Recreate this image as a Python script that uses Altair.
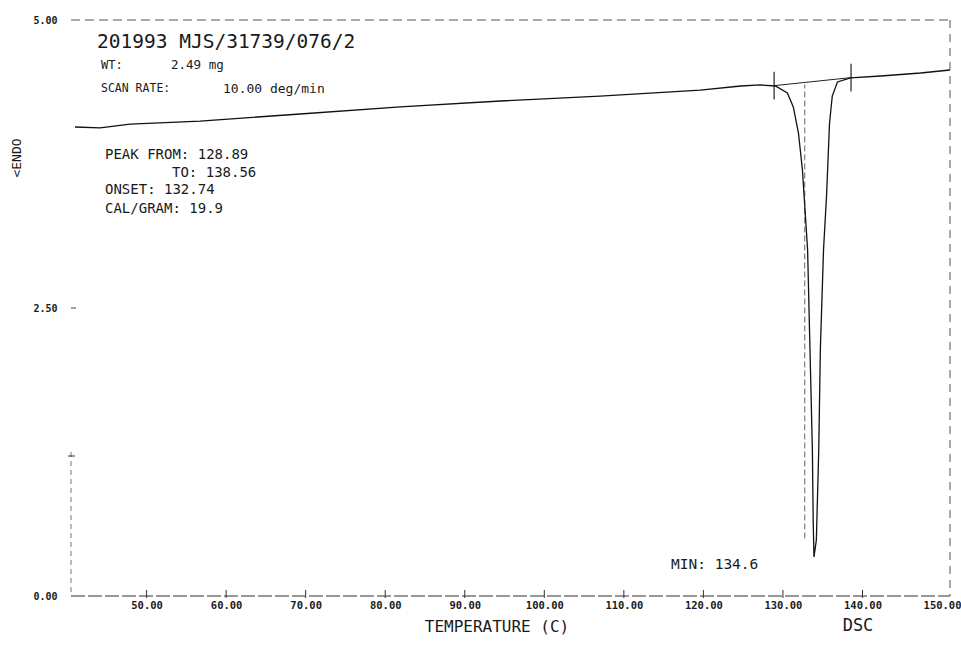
import altair as alt
import pandas as pd

# ---- data ----
temp = [41.0, 44.15, 47.92, 56.73, 69.3, 81.9, 94.5, 107.0, 119.6, 124.7, 127.2, 129.05,
        130.56, 131.3, 131.95, 132.45, 133.1, 133.4, 133.7, 133.8, 133.9,
        134.2, 134.5, 134.7, 135.1, 135.5, 135.85, 136.2, 136.85, 138.5, 142.3, 147.3, 151.0]
heat = [4.071, 4.063, 4.097, 4.123, 4.184, 4.245, 4.297, 4.340, 4.392, 4.427, 4.436, 4.427,
        4.366, 4.245, 4.019, 3.698, 3.003, 2.135, 1.267, 0.66, 0.339,
        0.486, 1.267, 2.135, 3.003, 3.500, 4.100, 4.340, 4.462, 4.497, 4.514, 4.540, 4.566]

peak_limits = [128.89, 138.56]
peak_base = [4.43, 4.50]
onset = [132.74]
onset_span = [0.5, 4.44]

x_ticks = [50, 60, 70, 80, 90, 100, 110, 120, 130, 140, 150]
y_ticks = [0.0, 2.5, 5.0]
x_domain = [40.5, 151.0]
y_domain = [0.0, 5.0]

W, H = 879, 576
FONT = "DejaVu Sans Mono"
INK = "#1a1a1a"

df = pd.DataFrame({"T": temp, "v": heat, "i": list(range(len(temp)))})
xs = alt.Scale(domain=x_domain, nice=False, zero=False)
ys = alt.Scale(domain=y_domain, nice=False, zero=True)

xaxis = alt.Axis(values=x_ticks, format=".2f", domain=False, ticks=False, grid=False,
                 labelFont=FONT, labelFontSize=10.5, labelFontWeight="bold",
                 labelColor=INK, labelPadding=4,
                 labelOverlap=False, labelFlush=False, title=None)
yaxis = alt.Axis(values=y_ticks, format=".2f", domain=False, ticks=False, grid=False,
                 labelFont=FONT, labelFontSize=10, labelFontWeight="bold",
                 labelColor=INK, labelPadding=14, title=None)

curve = alt.Chart(df).mark_line(color="#111", strokeWidth=1.3).encode(
    x=alt.X("T:Q", scale=xs, axis=xaxis),
    y=alt.Y("v:Q", scale=ys, axis=yaxis),
    order="i:Q",
)

base_df = pd.DataFrame({"T": peak_limits, "v": peak_base})
baseline = alt.Chart(base_df).mark_line(color="#222", strokeWidth=1).encode(
    x=alt.X("T:Q", scale=xs), y=alt.Y("v:Q", scale=ys))

mark_df = pd.DataFrame({"T": peak_limits, "lo": [b - 0.12 for b in peak_base],
                        "hi": [b + 0.12 for b in peak_base]})
limit_marks = alt.Chart(mark_df).mark_rule(color="#222", strokeWidth=1.2).encode(
    x=alt.X("T:Q", scale=xs), y=alt.Y("lo:Q", scale=ys), y2="hi:Q")

onset_df = pd.DataFrame({"T": onset, "lo": [onset_span[0]], "hi": [onset_span[1]]})
onset_line = alt.Chart(onset_df).mark_rule(color="#555", strokeWidth=0.9, strokeDash=[6, 3]).encode(
    x=alt.X("T:Q", scale=xs), y=alt.Y("lo:Q", scale=ys), y2="hi:Q")

tick_df = pd.DataFrame({"T": x_ticks[:-1]})
xticks = alt.Chart(tick_df).mark_rule(color="#333", strokeWidth=1).encode(
    x=alt.X("T:Q", scale=xs), y=alt.value(H - 6), y2=alt.value(H + 2))

ytick_df = pd.DataFrame({"v": [2.5]})
ytick = alt.Chart(ytick_df).mark_rule(color="#444", strokeWidth=1).encode(
    y=alt.Y("v:Q", scale=ys), x=alt.value(0), x2=alt.value(5))

one = pd.DataFrame({"a": [0]})
top_border = alt.Chart(one).mark_rule(color="#555", strokeWidth=1, strokeDash=[9, 5]).encode(
    x=alt.value(0), x2=alt.value(W), y=alt.value(0))
bottom_axis = alt.Chart(one).mark_rule(color="#333", strokeWidth=1, strokeDash=[14, 3]).encode(
    x=alt.value(0), x2=alt.value(W), y=alt.value(H))
right_border = alt.Chart(one).mark_rule(color="#555", strokeWidth=1, strokeDash=[8, 6]).encode(
    x=alt.value(W), y=alt.value(0), y2=alt.value(H))
left_axis = alt.Chart(one).mark_rule(color="#777", strokeWidth=1, strokeDash=[5, 4]).encode(
    x=alt.value(0), y=alt.value(432), y2=alt.value(H))
left_cross = alt.Chart(one).mark_rule(color="#333", strokeWidth=1).encode(
    x=alt.value(-3), x2=alt.value(4), y=alt.value(436))

texts = [
    ("201993 MJS/31739/076/2", 26, 22, 19.5, 0, "left"),
    ("WT:", 30, 45, 12, 0, "left"),
    ("2.49 mg", 100, 45, 12.5, 0, "left"),
    ("SCAN RATE:", 30, 69, 11.5, 0, "left"),
    ("10.00 deg/min", 152, 69, 13, 0, "left"),
    ("PEAK FROM: 128.89", 34, 135, 14, 0, "left"),
    ("TO: 138.56", 101, 152.5, 14, 0, "left"),
    ("ONSET: 132.74", 34, 170, 14, 0, "left"),
    ("CAL/GRAM: 19.9", 34, 189, 14, 0, "left"),
    ("MIN: 134.6", 600, 545, 14.5, 0, "left"),
    ("TEMPERATURE  (C)", 426, 607, 16, 0, "center"),
    ("DSC", 787, 606, 17, 0, "center"),
    ("<ENDO", -54, 138, 13, 270, "center"),
]
layers = []
for t, px, py, fs, ang, al in texts:
    layers.append(
        alt.Chart(one).mark_text(text=t, font=FONT, fontSize=fs, color=INK, align=al,
                                 baseline="middle", angle=ang).encode(
            x=alt.value(px), y=alt.value(py)))

chart = alt.layer(
    top_border, bottom_axis, right_border, left_axis, left_cross, xticks, ytick,
    baseline, limit_marks, onset_line, curve, *layers
).properties(
    width=W, height=H,
    autosize=alt.AutoSizeParams(type="none"),
    padding={"left": 71, "top": 20, "right": 11, "bottom": 60},
    background="white",
).configure_view(stroke=None)

chart.save("out.html", embed_options={"renderer": "svg", "actions": False})
